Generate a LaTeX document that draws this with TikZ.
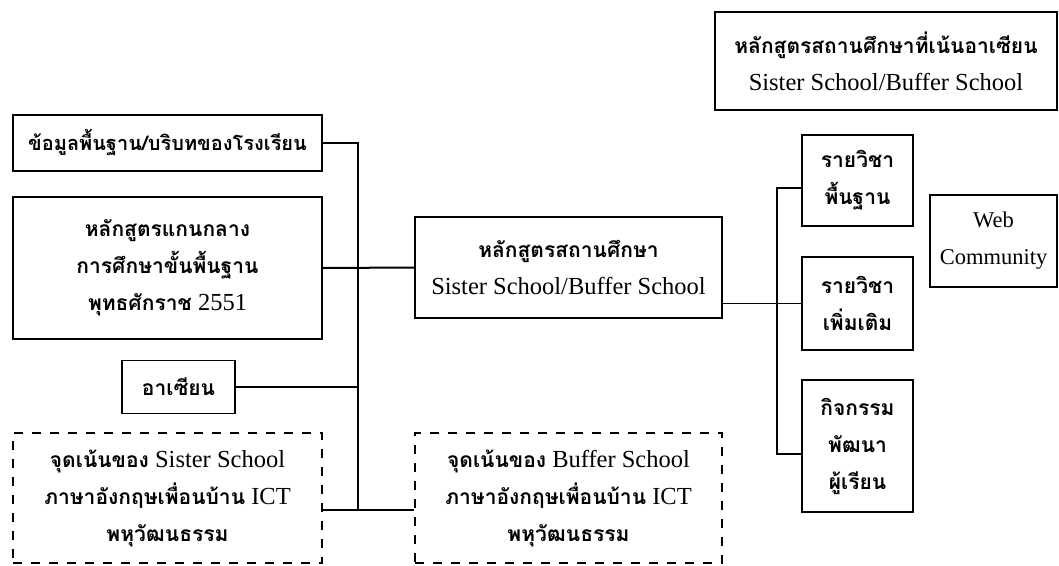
\documentclass[tikz,border=0pt]{standalone}
\usepackage{fontspec}
\setmainfont{Liberation Serif}
\newfontfamily\thaifont[Script=Thai]{Loma}
\usetikzlibrary{calc}
\newcommand{\thx}[1]{{\thaifont\bfseries\fontsize{21}{37}\selectfont #1}}

\tikzset{
	box/.style={draw, line width=1.6pt, inner sep=0pt, align=center,
		font=\fontsize{24.5}{37}\selectfont},
	dashbox/.style={box, dash pattern=on 9pt off 9pt},
	link/.style={line width=1.4pt}
}

\begin{document}
\begin{tikzpicture}[x=1pt, y=-1pt]
		\useasboundingbox (0,0) rectangle (1059,565);

		% left column
		\node[box, minimum width=309pt, minimum height=56pt] (info) at (167.5,143) {{\thaifont\bfseries\fontsize{20}{37}\selectfont ข้อมูลพื้นฐาน/บริบทของโรงเรียน}};
		\node[box, minimum width=309pt, minimum height=142pt] (core) at (167.5,268) {\thx{หลักสูตรแกนกลาง}\\ \thx{การศึกษาขั้นพื้นฐาน}\\ \thx{พุทธศักราช} 2551};
		\node[box, minimum width=113pt, minimum height=53pt] (asean) at (178.5,387) {\thx{อาเซียน}};
		\node[dashbox, minimum width=309pt, minimum height=130pt] (focusS) at (167.5,498) {\thx{จุดเน้นของ} Sister School\\ \thx{ภาษาอังกฤษเพื่อนบ้าน} ICT\\ \thx{พหุวัฒนธรรม}};

		% middle
		\node[box, minimum width=307pt, minimum height=101pt] (school) at (568.5,267.5) {\thx{หลักสูตรสถานศึกษา}\\ Sister School/Buffer School};
		\node[dashbox, minimum width=307pt, minimum height=130pt] (focusB) at (568.5,498) {\thx{จุดเน้นของ} Buffer School\\ \thx{ภาษาอังกฤษเพื่อนบ้าน} ICT\\ \thx{พหุวัฒนธรรม}};

		% right column
		\node[box, minimum width=342pt, minimum height=98pt] (title) at (886,61) {\thx{หลักสูตรสถานศึกษาที่เน้นอาเซียน}\\ Sister School/Buffer School};
		\node[box, minimum width=111pt, minimum height=91pt] (basic) at (857.5,180.5) {\thx{รายวิชา}\\ \thx{พื้นฐาน}};
		\node[box, minimum width=111pt, minimum height=93pt] (extra) at (857.5,303.5) {\thx{รายวิชา}\\ \thx{เพิ่มเติม}};
		\node[box, minimum width=111pt, minimum height=132pt] (activity) at (857.5,446) {\thx{กิจกรรม}\\ \thx{พัฒนา}\\ \thx{ผู้เรียน}};
		\node[box, line width=1.2pt, minimum width=127pt, minimum height=92pt, font=\fontsize{22.5}{37}\selectfont] (web) at (993.5,241) {Web\\ Community};

		% connectors
		\coordinate (ltop) at (358,143);
		\coordinate (lbot) at (358,510);
		\coordinate (rtop) at (777,188);
		\coordinate (rbot) at (777,454);

		\draw[link] (info.east) -- (ltop) -- (lbot);
		\draw[link] (asean.east) -- (asean.east -| lbot);
		\draw[link, line width=2pt] (core.east) -- (school.west);
		\draw[link] (focusS.east |- lbot) -- (focusB.west |- lbot);

		\draw[link] (school.east |- extra) -- (extra.west);
		\draw[link] (basic.west |- rtop) -- (rtop) -- (rbot) -- (activity.west |- rbot);
	\end{tikzpicture}
\end{document}
